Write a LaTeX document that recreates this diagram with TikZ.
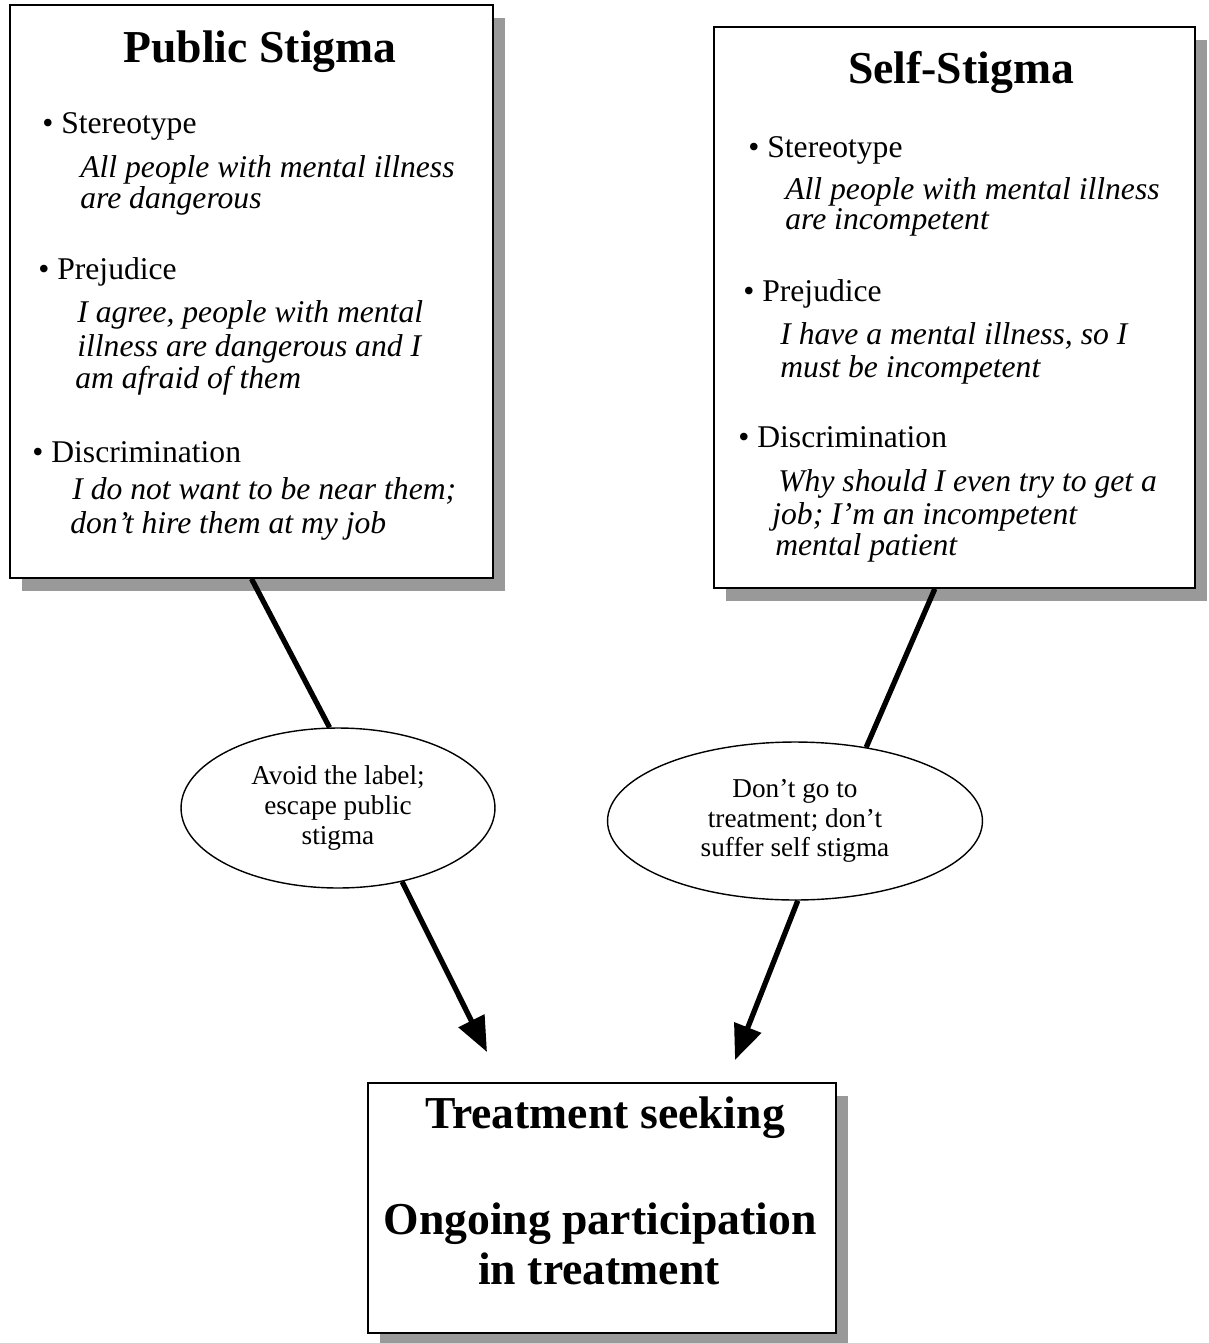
\documentclass[tikz,border=0pt]{standalone}
\usepackage{fontspec}
\setmainfont{Liberation Serif}
\usetikzlibrary{shapes.geometric,shadows,arrows.meta}
\colorlet{shcol}{black!40}
\tikzstyle{card}=[draw, line width=1pt, fill=white, drop shadow={shadow xshift=0.24cm, shadow yshift=-0.26cm, fill=shcol, opacity=1}]
\tikzstyle{choice}=[ellipse, draw, line width=0.8pt, fill=white, align=center, inner sep=0pt, font=\fontsize{15.5}{17}\selectfont]
\tikzstyle{headtext}=[anchor=base, inner sep=0pt, font=\fontsize{26}{30}\selectfont\bfseries]
\tikzstyle{bigtext}=[anchor=base, inner sep=0pt, font=\fontsize{26}{30}\selectfont\bfseries]
\tikzstyle{bullet}=[anchor=base west, inner sep=0pt, font=\fontsize{18}{21}\selectfont]
\tikzstyle{saying}=[anchor=base west, inner sep=0pt, font=\fontsize{18}{21}\selectfont\itshape]
\tikzstyle{link}=[line width=3pt]
\tikzstyle{flow}=[line width=3pt, -{Triangle[length=0.7cm, width=0.56cm]}]

\begin{document}
\begin{tikzpicture}[x=0.02cm, y=-0.02cm]
			\useasboundingbox (0,0) rectangle (1209,1343);

			% Boxes
			\node[card, minimum width=9.66cm, minimum height=11.46cm] (pub) at (251.5, 291.5) {};
			\node[card, minimum width=9.62cm, minimum height=11.22cm] (self) at (954.5, 307.5) {};
			\node[card, minimum width=9.36cm, minimum height=5cm] (treat) at (602, 1208) {};

			% Public stigma
			\node[headtext] (pubT) at (260, 62) {Public Stigma};
			\node[bullet] (pubS) at (42, 133) {• Stereotype};
			\node[saying] (pubS1) at (80, 177) {All people with mental illness};
			\node[saying] (pubS2) at (80, 208) {are dangerous};
			\node[bullet] (pubP) at (38, 279) {• Prejudice};
			\node[saying] (pubP1) at (77, 322) {I agree, people with mental};
			\node[saying] (pubP2) at (77, 356) {illness are dangerous and I};
			\node[saying] (pubP3) at (75, 388) {am afraid of them};
			\node[bullet] (pubD) at (32, 462) {• Discrimination};
			\node[saying] (pubD1) at (72, 499) {I do not want to be near them;};
			\node[saying] (pubD2) at (70, 533) {don't hire them at my job};

			% Self-stigma
			\node[headtext] (selfT) at (961, 83) {Self-Stigma};
			\node[bullet] (selfS) at (748, 157) {• Stereotype};
			\node[saying] (selfS1) at (785, 199) {All people with mental illness};
			\node[saying] (selfS2) at (785, 229) {are incompetent};
			\node[bullet] (selfP) at (743, 301) {• Prejudice};
			\node[saying] (selfP1) at (780, 344) {I have a mental illness, so I};
			\node[saying] (selfP2) at (780, 377) {must be incompetent};
			\node[bullet] (selfD) at (738, 447) {• Discrimination};
			\node[saying] (selfD1) at (778, 491) {Why should I even try to get a};
			\node[saying] (selfD2) at (772, 524) {job; I'm an incompetent};
			\node[saying] (selfD3) at (775, 555) {mental patient};

			% Treatment
			\node[bigtext] (treatT) at (605, 1128) {Treatment seeking};
			\node[bigtext] (treatO1) at (600, 1234) {Ongoing participation};
			\node[bigtext] (treatO2) at (599, 1284) {in treatment};

			% Ellipses
			\node[choice, minimum width=6.28cm, minimum height=3.2cm] (avoid) at (338, 808) {Avoid the label;\\escape public\\stigma};
			\node[choice, minimum width=7.5cm, minimum height=3.16cm] (dont) at (795, 821) {Don't go to\\treatment; don't\\suffer self stigma};

			\coordinate (tipA) at (487, 1052);
			\coordinate (tipB) at (735, 1060);

			% Connectors
			\draw[link] (pub.south) -- (avoid.96);
			\draw[flow] (avoid.-49) -- (tipA);
			\draw[link] (self.-94.6) -- (dont.46);
			\draw[flow] (dont.-88) -- (tipB);
		\end{tikzpicture}
\end{document}
